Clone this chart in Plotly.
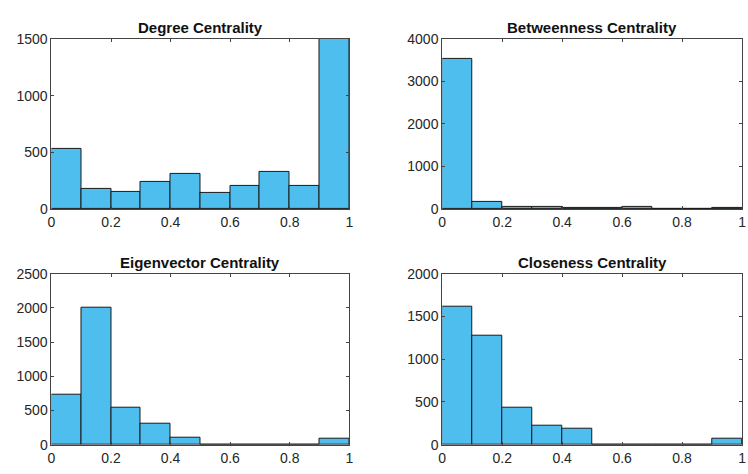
import numpy as np
import plotly.graph_objects as go

bin_edges = [0.0, 0.1, 0.2, 0.3, 0.4, 0.5, 0.6, 0.7, 0.8, 0.9, 1.0]
titles = ["Degree Centrality", "Betweenness Centrality",
          "Eigenvector Centrality", "Closeness Centrality"]
degree_counts = [532, 175, 150, 235, 306, 142, 207, 331, 207, 1500]
betweenness_counts = [3520, 167, 60, 45, 30, 15, 38, 8, 5, 20]
eigenvector_counts = [731, 2005, 542, 307, 108, 0, 0, 0, 0, 90]
closeness_counts = [1610, 1280, 436, 223, 182, 0, 0, 0, 0, 72]
y_max = [1500, 4000, 2500, 2000]
y_step = [500, 1000, 500, 500]
x_ticks = [0, 0.2, 0.4, 0.6, 0.8, 1]

series = [degree_counts, betweenness_counts, eigenvector_counts, closeness_counts]

W, H = 748, 474
xdoms = [[48 / W, 349 / W], [443 / W, 746 / W]]
ydoms = [[1 - 208 / H, 1 - 32 / H], [1 - 452 / H, 1 - 275 / H]]

edges = np.array(bin_edges)
centers = (edges[:-1] + edges[1:]) / 2
widths = np.diff(edges)

fig = go.Figure()
font_fam = "Liberation Sans, Arial, sans-serif"
axis_col = "#262626"
for i, counts in enumerate(series):
    r, c = divmod(i, 2)
    n = i + 1
    xa = "x" if n == 1 else f"x{n}"
    ya = "y" if n == 1 else f"y{n}"
    fig.add_trace(go.Bar(
        x=centers, y=counts, width=widths,
        marker=dict(color="rgb(77,190,238)", line=dict(color="#1a1a1a", width=1)),
        xaxis=xa, yaxis=ya, showlegend=False, hoverinfo="x+y"))
    xkey = "xaxis" if n == 1 else f"xaxis{n}"
    ykey = "yaxis" if n == 1 else f"yaxis{n}"
    fig.update_layout(**{
        xkey: dict(domain=xdoms[c], anchor=ya, range=[0, 1], tickvals=x_ticks,
                   ticktext=[f"{t:g}" for t in x_ticks],
                   showgrid=False, zeroline=False, showline=True, mirror="ticks",
                   linecolor="#444", linewidth=1, ticks="inside", ticklen=3,
                   tickcolor="#444", tickfont=dict(size=14, color=axis_col, family=font_fam)),
        ykey: dict(domain=ydoms[r], anchor=xa, range=[0, y_max[i]],
                   tickvals=list(range(0, y_max[i] + 1, y_step[i])),
                   showgrid=False, zeroline=False, showline=True, mirror="ticks",
                   linecolor="#444", linewidth=1, ticks="inside", ticklen=3,
                   tickcolor="#444", tickfont=dict(size=14, color=axis_col, family=font_fam)),
    })
    fig.add_annotation(text=f"<b>{titles[i]}</b>", xref="paper", yref="paper",
                       x=sum(xdoms[c]) / 2, y=ydoms[r][1], yanchor="bottom",
                       xanchor="center", showarrow=False, yshift=1,
                       font=dict(size=15, color="#111", family=font_fam))

fig.update_layout(width=W, height=H, margin=dict(l=0, r=0, t=0, b=0),
                  paper_bgcolor="white", plot_bgcolor="white", bargap=0)
fig.write_html("out.html")
